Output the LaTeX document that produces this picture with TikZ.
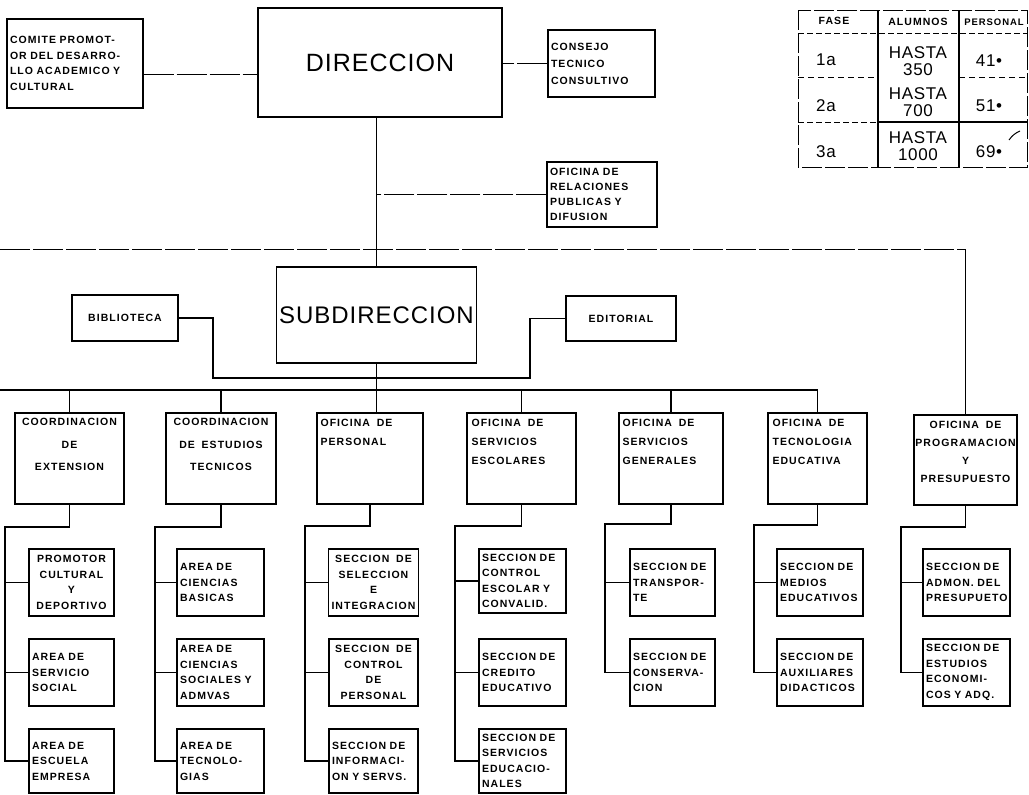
\documentclass[tikz,border=0pt]{standalone}
\usepackage{fontspec}
\setmainfont{Liberation Sans}
\newfontfamily\rotulo[LetterSpace=10,WordSpace=1.7]{Liberation Sans Bold}
\newfontfamily\titulo[LetterSpace=4]{Liberation Sans}
\usetikzlibrary{positioning}

\begin{document}
\begin{tikzpicture}[x=1pt,y=-1pt]

% ---------- common style ----------
\tikzstyle{caja}=[draw=black,line width=1.3pt,inner sep=3pt,font=\rotulo\fontsize{10.5}{15.5}\selectfont]
\tikzstyle{grande}=[caja,font=\titulo\fontsize{25}{30}\selectfont]
\tikzstyle{rot}=[inner sep=0pt,font=\rotulo\fontsize{10.5}{19}\selectfont]
\tikzstyle{cifra}=[inner sep=0pt,align=center,font=\titulo\fontsize{17}{17}\selectfont]
\tikzstyle{link}=[line width=1.3pt]
\tikzstyle{tenue}=[line width=1pt,dash pattern=on 30pt off 3pt]

\useasboundingbox (0,0) rectangle (1029,795);
\clip (0,0) rectangle (1029,795);

% ================== top: direccion ==================
\node[caja,align=left,text width=130pt,minimum width=136pt,minimum height=89pt]
      (comite) at (75,63.5) {COMITE PROMOT-\\OR DEL DESARRO-\\LLO ACADEMICO Y\\CULTURAL};
\node[grande,minimum width=244pt,minimum height=109pt] (direccion) at (380,62.5) {DIRECCION};
\node[caja,align=left,text width=101pt,minimum width=107pt,minimum height=67pt,
      font=\rotulo\fontsize{10.5}{17}\selectfont]
      (consejo) at (601.5,63.5) {CONSEJO\\TECNICO\\CONSULTIVO};
\node[caja,align=left,text width=104pt,minimum width=110pt,minimum height=65pt,
      font=\rotulo\fontsize{10.5}{15}\selectfont]
      (relaciones) at (602,194.5) {OFICINA DE\\RELACIONES\\PUBLICAS Y\\DIFUSION};

% ================== subdireccion ==================
\node[grande,font=\titulo\fontsize{24}{30}\selectfont,minimum width=199pt,minimum height=96pt]
      (subdir) at (376.5,315) {SUBDIRECCION};
\node[caja,minimum width=106pt,minimum height=46pt] (biblioteca) at (125,318) {BIBLIOTECA};
\node[caja,minimum width=110pt,minimum height=45pt] (editorial) at (621,318.5) {EDITORIAL};

% ================== second level ==================
\node[caja,minimum width=109pt,minimum height=91pt] (coordext) at (69.5,458.5) {};
\node[caja,minimum width=110pt,minimum height=91pt] (coordest) at (221,458.5) {};
\node[caja,minimum width=106pt,minimum height=91pt] (personal) at (370,458.5) {};
\node[caja,minimum width=109pt,minimum height=91pt] (servesc) at (521.5,458.5) {};
\node[caja,minimum width=104pt,minimum height=91pt] (servgen) at (671,458.5) {};
\node[caja,minimum width=99pt,minimum height=91pt] (tecnologia) at (817.5,458.5) {};
\node[caja,minimum width=103pt,minimum height=90pt] (programacion) at (965.5,460) {};

\node[rot,align=center,below=6pt of coordext.north] (coordext-t) {COORDINACION\\[4pt]DE\\[3pt]EXTENSION};
\node[rot,align=center,below=6pt of coordest.north] (coordest-t) {COORDINACION\\[4pt]DE ESTUDIOS\\[3pt]TECNICOS};
\node[rot,align=left,below right=7pt and 4pt of personal.north west] (personal-t) {OFICINA DE\\PERSONAL};
\node[rot,align=left,below right=7pt and 5pt of servesc.north west] (servesc-t) {OFICINA DE\\SERVICIOS\\ESCOLARES};
\node[rot,align=left,below right=7pt and 4pt of servgen.north west] (servgen-t) {OFICINA DE\\SERVICIOS\\GENERALES};
\node[rot,align=left,below right=7pt and 5pt of tecnologia.north west] (tecnologia-t) {OFICINA DE\\TECNOLOGIA\\EDUCATIVA};
\node[rot,align=center,below=7pt of programacion.north,font=\rotulo\fontsize{10.5}{18}\selectfont]
      (programacion-t) {OFICINA DE\\PROGRAMACION\\Y\\PRESUPUESTO};

% ================== third level ==================
% col 1
\node[caja,align=center,minimum width=85pt,minimum height=67pt] (promotor) at (71.5,582.5) {PROMOTOR\\CULTURAL\\Y\\DEPORTIVO};
\node[caja,align=left,text width=79pt,minimum width=85pt,minimum height=67pt] (servicio) at (71.5,672.5) {AREA DE\\SERVICIO\\SOCIAL};
\node[caja,align=left,text width=79pt,minimum width=85pt,minimum height=64pt] (escuela) at (71.5,761) {AREA DE\\ESCUELA\\EMPRESA};
% col 2
\node[caja,align=left,text width=81pt,minimum width=87pt,minimum height=67pt] (basicas) at (220.5,582.5) {AREA DE\\CIENCIAS\\BASICAS};
\node[caja,align=left,text width=81pt,minimum width=87pt,minimum height=67pt] (sociales) at (220.5,672.5) {AREA DE\\CIENCIAS\\SOCIALES Y\\ADMVAS};
\node[caja,align=left,text width=81pt,minimum width=87pt,minimum height=64pt] (tecnologias) at (220.5,761) {AREA DE\\TECNOLO-\\GIAS};
% col 3
\node[caja,align=center,minimum width=89pt,minimum height=67pt] (seleccion) at (373.5,582.5) {SECCION DE\\SELECCION\\E\\INTEGRACION};
\node[caja,align=center,minimum width=89pt,minimum height=67pt] (controlper) at (373.5,672.5) {SECCION DE\\CONTROL\\DE\\PERSONAL};
\node[caja,align=left,text width=83pt,minimum width=89pt,minimum height=64pt] (informacion) at (373.5,761) {SECCION DE\\INFORMACI-\\ON Y SERVS.};
% col 4
\node[caja,align=left,text width=81pt,minimum width=87pt,minimum height=64pt] (escolar) at (522.5,581) {SECCION DE\\CONTROL\\ESCOLAR Y\\CONVALID.};
\node[caja,align=left,text width=81pt,minimum width=87pt,minimum height=67pt] (credito) at (522.5,672.5) {SECCION DE\\CREDITO\\EDUCATIVO};
\node[caja,align=left,text width=81pt,minimum width=87pt,minimum height=64pt] (educacionales) at (522.5,761) {SECCION DE\\SERVICIOS\\EDUCACIO-\\NALES};
% col 5
\node[caja,align=left,text width=79pt,minimum width=85pt,minimum height=67pt] (transporte) at (672.5,582.5) {SECCION DE\\TRANSPOR-\\TE};
\node[caja,align=left,text width=79pt,minimum width=85pt,minimum height=67pt] (conservacion) at (672.5,672.5) {SECCION DE\\CONSERVA-\\CION};
% col 6
\node[caja,align=left,text width=80pt,minimum width=86pt,minimum height=67pt] (medios) at (820,582.5) {SECCION DE\\MEDIOS\\EDUCATIVOS};
\node[caja,align=left,text width=80pt,minimum width=86pt,minimum height=67pt] (auxiliares) at (820,672.5) {SECCION DE\\AUXILIARES\\DIDACTICOS};
% col 7
\node[caja,align=left,text width=81pt,minimum width=87pt,minimum height=67pt] (admon) at (966.5,582.5) {SECCION DE\\ADMON. DEL\\PRESUPUETO};
\node[caja,align=left,text width=81pt,minimum width=87pt,minimum height=67pt] (economicos) at (966.5,672.5) {SECCION DE\\ESTUDIOS\\ECONOMI-\\COS Y ADQ.};

% ================== connectors ==================
\draw[tenue] ([yshift=-11pt]comite.east) -- ([yshift=-11pt]comite.east -| direccion.west);
\draw[tenue] (consejo.west) -- (consejo.west -| direccion.east);
\draw[link] (direccion.south -| subdir.north) -- (subdir.north);
\draw[tenue] (relaciones.west) -- (relaciones.west -| subdir.north);

\coordinate (bibcodo) at (213,378);
\coordinate (editcodo) at (530,378);
\draw[link] (biblioteca.east) -| (bibcodo) -- (editcodo) |- (editorial.west);

% long lines (continue off the sheet on the left)
\coordinate (linea) at (0,249);
\coordinate (bus) at (0,390);
\draw[tenue] (linea) -- (linea -| programacion.north);
\draw[link] (linea -| programacion.north) -- (programacion.north);
\draw[link] (bus) -| (tecnologia.north);
\draw[link] (subdir.south) -- (subdir.south |- bus);

\draw[link] (coordext.north |- bus) -- (coordext.north);
\draw[link] (coordest.north |- bus) -- (coordest.north);
\draw[link] (subdir.south |- bus) -- (subdir.south |- personal.north);
\draw[link] (servesc.north |- bus) -- (servesc.north);
\draw[link] (servgen.north |- bus) -- (servgen.north);

% rails
\coordinate (ext-codo) at (5,527);
\coordinate (est-codo) at (155,527);
\coordinate (per-codo) at (305,526);
\coordinate (esc-codo) at (455,526);
\coordinate (gen-codo) at (605,524);
\coordinate (tec-codo) at (754,525);
\coordinate (pro-codo) at (901,527);

\draw[link] (coordext.south) |- (ext-codo) |- (escuela.west);
\draw[link] (ext-codo |- promotor.west) -- (promotor.west);
\draw[link] (ext-codo |- servicio.west) -- (servicio.west);

\draw[link] (coordest.south) |- (est-codo) |- (tecnologias.west);
\draw[link] (est-codo |- basicas.west) -- (basicas.west);
\draw[link] (est-codo |- sociales.west) -- (sociales.west);

\draw[link] (personal.south) |- (per-codo) |- (informacion.west);
\draw[link] (per-codo |- seleccion.west) -- (seleccion.west);
\draw[link] (per-codo |- controlper.west) -- (controlper.west);

\draw[link] (servesc.south) |- (esc-codo) |- (educacionales.west);
\draw[link] (esc-codo |- escolar.west) -- (escolar.west);
\draw[link] (esc-codo |- credito.west) -- (credito.west);

\draw[link] (servgen.south) |- (gen-codo) |- (conservacion.west);
\draw[link] (gen-codo |- transporte.west) -- (transporte.west);

\draw[link] (tecnologia.south) |- (tec-codo) |- (auxiliares.west);
\draw[link] (tec-codo |- medios.west) -- (medios.west);

\draw[link] (programacion.south) |- (pro-codo) |- (economicos.west);
\draw[link] (pro-codo |- admon.west) -- (admon.west);

% ================== table of phases ==================
\draw[line width=1pt,dash pattern=on 20pt off 3pt] (798,10) rectangle (1027,167);
\draw[link] (878,10) -- (878,167);
\draw[link] (959,10) -- (959,167);
\draw[line width=0.8pt,dash pattern=on 6pt off 3pt] (798,33) -- (1027,33);
\draw[line width=0.8pt,dash pattern=on 6pt off 4pt] (798,77) -- (878,77);
\draw[line width=0.8pt,dash pattern=on 6pt off 4pt] (959,77) -- (1027,77);
\draw[line width=0.8pt,dash pattern=on 6pt off 3pt] (798,122) -- (878,122);
\draw[link] (878,122) -- (1027,122);

\node[rot] (t-fase) at (834,21) {FASE};
\node[rot] (t-alumnos) at (918,22) {ALUMNOS};
\node[rot,font=\rotulo\fontsize{9.5}{19}\selectfont] (t-personal) at (994,22) {PERSONAL};
\node[cifra] (f1) at (826,60) {1a};
\node[cifra] (f2) at (826,106) {2a};
\node[cifra] (f3) at (826,152) {3a};
\node[cifra] (a1) at (918,61) {HASTA\\350};
\node[cifra] (a2) at (918,102) {HASTA\\700};
\node[cifra] (a3) at (918,146) {HASTA\\1000};
\node[cifra] (p1) at (989,61) {41•};
\node[cifra] (p2) at (989,106) {51•};
\node[cifra] (p3) at (989,152) {69•};
\draw[line width=1pt] (1009,140) to[bend left=15] (1020,131);

\end{tikzpicture}
\end{document}
